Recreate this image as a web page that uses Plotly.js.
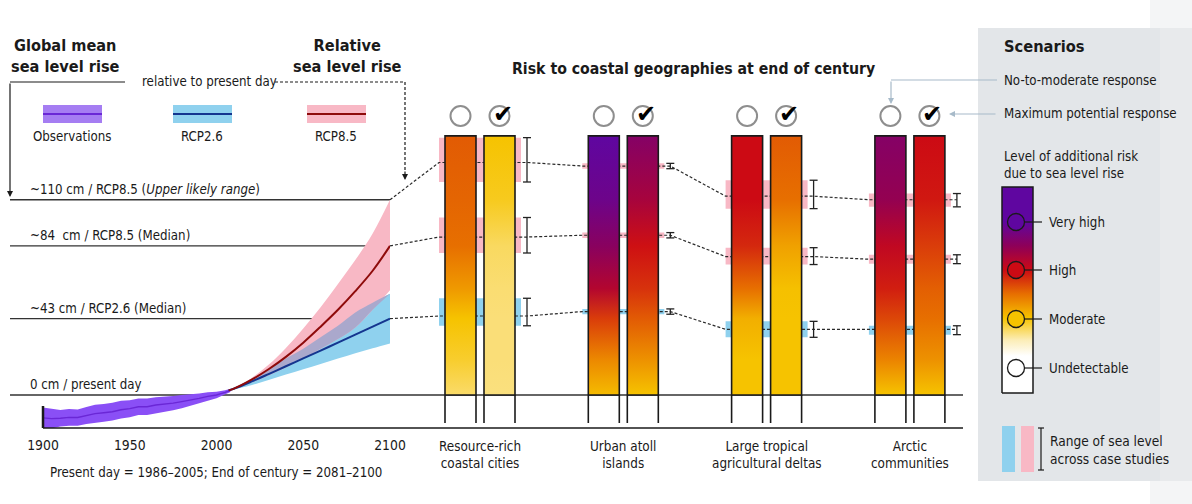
<!DOCTYPE html>
<html>
<head>
<meta charset="utf-8">
<script src="https://cdn.plot.ly/plotly-3.0.1.min.js"></script>
<style>
  html, body { margin: 0; padding: 0; background: #fff; }
  #chart { width: 1192px; height: 504px; }
</style>
</head>
<body>
<div id="chart"></div>
<script>
// ---------- Global mean sea level, cm relative to present day (1986–2005) ----------
const obsYears = [1900,1905,1910,1915,1920,1925,1930,1935,1940,1945,1950,1955,1960,1965,1970,1975,1980,1985,1990,1995,2000,2005,2008];
const obsMid   = [-12.9,-13.3,-13.1,-12.6,-12.7,-11.5,-10.5,-10.0,-9.4,-8.3,-7.7,-6.6,-6.6,-5.6,-5.2,-4.6,-3.7,-3.0,-1.9,-0.8,0.0,1.5,2.6];
const obsLow   = [-18.7,-18.8,-17.8,-17.3,-17.3,-16.3,-15.5,-15.0,-14.4,-13.3,-12.5,-11.2,-11.2,-10.0,-9.4,-8.6,-7.4,-6.3,-4.7,-3.2,-1.9,0.3,1.7];
const obsHigh  = [-7.1,-7.8,-8.4,-7.9,-8.1,-6.7,-5.5,-5.0,-4.4,-3.3,-2.9,-2.0,-2.0,-1.2,-1.0,-0.6,0.0,0.3,0.9,1.6,1.9,2.7,3.5];

const projYears  = [2007,2010,2020,2030,2040,2050,2060,2070,2080,2090,2100];
const rcp26Mid   = [2.6,3.5,7.5,11.8,16.2,20.6,25.0,29.5,34.0,38.5,43];
const rcp26Low   = [2.6,3.2,5.5,8.5,11.5,14.5,17.5,20.5,23.5,26.3,29];
const rcp26High  = [2.6,3.8,9.0,14.5,20.5,26.0,32.5,39.0,46.5,52.0,57];
const rcp85Mid   = [2.6,3.6,8.5,14.5,21.5,29.5,38.5,48.0,58.5,70.0,84];
const rcp85Low   = [2.6,3.4,7.0,11.0,15.5,20.5,26.0,31.5,38.0,48.0,59];
const rcp85High  = [2.6,3.8,9.5,17.0,26.5,37.5,49.5,62.5,76.0,91.0,110];

// Reference levels at end of century
const levelValues = [110, 84, 43, 0];
const levelLabels = ['~110 cm / RCP8.5 (<i>Upper likely range</i>)', '~84\u00a0 cm / RCP8.5 (Median)', '~43 cm / RCP2.6 (Median)', '0 cm / present day'];
const yearTicks = [1900, 1950, 2000, 2050, 2100];

// ---------- Risk to coastal geographies ----------
const groups = ['Resource-rich<br>coastal cities', 'Urban atoll<br>islands', 'Large tropical<br>agricultural deltas', 'Arctic<br>communities'];
const responses = ['No-to-moderate response', 'Maximum potential response'];
// relative sea level per geography for: RCP8.5 upper likely, RCP8.5 median, RCP2.6 median
const scenarioGlobal = [110, 84, 43];
const rslMid  = [[131, 89, 44.5], [129, 90, 47], [112, 78, 37], [110, 76.5, 37]];
const rslLow  = [[120, 80, 39],   [127.5, 88.5, 45.5], [105, 73.5, 32.5], [106, 74, 34]];
const rslHigh = [[145, 100, 54.5],[130.5, 91.5, 48.5], [121, 83, 41.5],   [113.5, 79, 39]];

// risk level (0 undetectable … 3 very high) along sea level rise
const riskHeights = [0, 20, 43, 60, 84, 110, 146];
const riskNoToModerate = [
  [0.65, 0.85, 1.0, 1.25, 1.5, 1.55, 1.6],
  [1.05, 1.35, 1.75, 2.2, 2.55, 2.85, 3.0],
  [1.0, 1.0, 1.12, 1.5, 1.85, 2.0, 2.0],
  [1.0, 1.38, 1.7, 1.9, 2.1, 2.45, 2.6]
];
const riskMaximum = [
  [0.58, 0.6, 0.6, 0.62, 0.68, 0.9, 1.0],
  [1.0, 1.3, 1.6, 1.8, 1.97, 2.3, 2.6],
  [1.0, 1.0, 1.0, 1.02, 1.2, 1.5, 1.6],
  [1.0, 1.3, 1.5, 1.58, 1.75, 1.93, 2.0]
];
const riskNames = ['Undetectable', 'Moderate', 'High', 'Very high'];
const riskNameLevels = [0, 1, 2, 3];

// ---------- styling / layout constants ----------
const FONT = '"DejaVu Sans Condensed", "Liberation Sans Narrow", "Arial Narrow", sans-serif';
const FS = 13.2;
const INK = '#1a1a1a';
const W = 1192, H = 504;
const ZERO_PX = 395, PX_PER_CM = 1.775, AXIS_PX = 428;
const cmAt = p => (ZERO_PX - p) / PX_PER_CM;
const BAR_TOP = 146;
const GROUP_X0 = 445, GROUP_STEP = 143.3, BAR_W = 31, BAR_STEP = 39;
const PINK = '#f8b8c5', BLUE = '#8fd1ee';
const scenarioColors = [PINK, PINK, BLUE];

const riskPalette = [[0,'#ffffff'],[0.5,'#fbe596'],[1,'#f6c300'],[1.5,'#e76f00'],[2,'#cc0a14'],[2.5,'#8e0058'],[3,'#5f06a0']];
function hexRgb(h) { return [1,3,5].map(i => parseInt(h.slice(i, i + 2), 16)); }
function riskColor(v) {
  for (let k = 1; k < riskPalette.length; k++) {
    const [v1, c1] = riskPalette[k], [v0, c0] = riskPalette[k - 1];
    if (v <= v1 || k === riskPalette.length - 1) {
      const t = Math.max(0, Math.min(1, (v - v0) / (v1 - v0)));
      const a = hexRgb(c0), b = hexRgb(c1);
      const m = a.map((x, i) => Math.round(x + (b[i] - x) * t));
      return `rgb(${m[0]},${m[1]},${m[2]})`;
    }
  }
}

const groupLeft = i => GROUP_X0 + i * GROUP_STEP;
const barLeft = (i, j) => groupLeft(i) + j * BAR_STEP;
const groupCenter = i => groupLeft(i) + (BAR_STEP + BAR_W) / 2;
const ibarX = i => groupLeft(i) + 82;

const traces = [];
const T = (o) => Object.assign({hoverinfo: 'skip', showlegend: false}, o);
const rev = a => a.slice().reverse();

// ----- time series panel -----
traces.push(T({x: obsYears.concat(rev(obsYears)), y: obsHigh.concat(rev(obsLow)), mode: 'lines', fill: 'toself', fillcolor: '#8a4ff6', line: {width: 0}, xaxis: 'x', yaxis: 'y'}));
traces.push(T({x: obsYears, y: obsMid, mode: 'lines', line: {color: '#6a27d6', width: 1.4}, xaxis: 'x', yaxis: 'y'}));
// likely ranges filled between smooth edges
function band(lo, hi, color) {
  traces.push(T({x: projYears, y: lo, mode: 'lines', line: {width: 0, shape: 'spline', smoothing: 1}, xaxis: 'x', yaxis: 'y'}));
  traces.push(T({x: projYears, y: hi, mode: 'lines', fill: 'tonexty', fillcolor: color, line: {width: 0, shape: 'spline', smoothing: 1}, xaxis: 'x', yaxis: 'y'}));
}
band(rcp26Low, rcp26High, BLUE);
band(rcp85Low, rcp85High, PINK);
// where the two likely ranges overlap
const ovTop = projYears.map((_, k) => Math.min(rcp26High[k], rcp85High[k]));
const ovBot = projYears.map((_, k) => Math.min(ovTop[k], Math.max(rcp26Low[k], rcp85Low[k])));
band(ovBot, ovTop, '#aaa8cc');
traces.push(T({x: projYears, y: rcp26Mid, mode: 'lines', line: {color: '#14358f', width: 2, shape: 'spline', smoothing: 1}, xaxis: 'x', yaxis: 'y'}));
traces.push(T({x: projYears, y: rcp85Mid, mode: 'lines', line: {color: '#8e0b0b', width: 2, shape: 'spline', smoothing: 1}, xaxis: 'x', yaxis: 'y'}));

// ----- risk panel (x2 in layout pixels, y in cm) -----
// ranges of relative sea level across case studies
groups.forEach((g, i) => {
  scenarioGlobal.forEach((_, s) => {
    const x0 = groupLeft(i) - 6, x1 = groupLeft(i) + BAR_STEP + BAR_W + 6;
    traces.push(T({x: [x0, x1, x1, x0, x0], y: [rslLow[i][s], rslLow[i][s], rslHigh[i][s], rslHigh[i][s], rslLow[i][s]],
      mode: 'lines', fill: 'toself', fillcolor: scenarioColors[s], line: {width: 0}, xaxis: 'x2', yaxis: 'y'}));
  });
});
// dashed connectors from the global level through each geography
scenarioGlobal.forEach((lvl, s) => {
  const xs = [390], ys = [lvl];
  groups.forEach((g, i) => {
    xs.push(groupLeft(i) - 6, ibarX(i));
    ys.push(rslMid[i][s], rslMid[i][s]);
  });
  traces.push(T({x: xs, y: ys, mode: 'lines', line: {color: '#2a2a2a', width: 1.2, dash: '3px,2px'}, xaxis: 'x2', yaxis: 'y'}));
});
// range whiskers
scenarioGlobal.forEach((_, s) => {
  const xs = [], ys = [];
  groups.forEach((g, i) => {
    const x = ibarX(i), lo = rslLow[i][s], hi = rslHigh[i][s];
    xs.push(x, x, null, x - 4, x + 4, null, x - 4, x + 4, null);
    ys.push(lo, hi, null, lo, lo, null, hi, hi, null);
  });
  traces.push(T({x: xs, y: ys, mode: 'lines', line: {color: '#222', width: 1.3}, xaxis: 'x2', yaxis: 'y'}));
});
// gradient risk bars
function barTrace(x0, profile) {
  const x1 = x0 + BAR_W;
  const cs = riskHeights.map((h, k) => [h / BAR_TOP, riskColor(profile[k])]);
  cs[0][0] = 0; cs[cs.length - 1][0] = 1;
  return T({x: [x0, x1, x1, x0, x0], y: [0, 0, BAR_TOP, BAR_TOP, 0], mode: 'lines', fill: 'toself',
    fillgradient: {type: 'vertical', colorscale: cs, start: 0, stop: BAR_TOP},
    line: {color: INK, width: 1.6}, xaxis: 'x2', yaxis: 'y'});
}
groups.forEach((g, i) => {
  traces.push(barTrace(barLeft(i, 0), riskNoToModerate[i]));
  traces.push(barTrace(barLeft(i, 1), riskMaximum[i]));
});
// bar edges continue below the present-day line
{
  const xs = [], ys = [];
  groups.forEach((g, i) => [0, 1].forEach(j => {
    [barLeft(i, j), barLeft(i, j) + BAR_W].forEach(x => { xs.push(x, x, null); ys.push(0, cmAt(423), null); });
  }));
  traces.push(T({x: xs, y: ys, mode: 'lines', line: {color: INK, width: 1.6}, xaxis: 'x2', yaxis: 'y'}));
}
// response symbols above the bars
const symX = [], symY = [];
groups.forEach((g, i) => [0, 1].forEach(j => { symX.push(barLeft(i, j) + BAR_W / 2); symY.push(cmAt(116)); }));
traces.push(T({x: symX, y: symY, mode: 'markers', marker: {symbol: 'circle-open', size: 20, color: '#8e8e8e', line: {width: 2}}, xaxis: 'x2', yaxis: 'y'}));

// ----- key: level of additional risk -----
const keyStopsPx = [[393, 0], [356, 0], [340, 0.35], [318, 1], [294, 1.5], [270, 2], [246, 2.5], [222, 3], [187, 3]];
{
  const y0 = cmAt(393), y1 = cmAt(187);
  const cs = keyStopsPx.map(([p, v]) => [(cmAt(p) - y0) / (y1 - y0), riskColor(v)]);
  cs[0][0] = 0; cs[cs.length - 1][0] = 1;
  traces.push(T({x: [1002, 1033, 1033, 1002, 1002], y: [y0, y0, y1, y1, y0], mode: 'lines', fill: 'toself',
    fillgradient: {type: 'vertical', colorscale: cs, start: y0, stop: y1}, line: {color: INK, width: 1.5}, xaxis: 'x2', yaxis: 'y'}));
}
const keyPx = [368, 319, 270, 222];
traces.push(T({x: [1024, 1042, null, 1024, 1042, null, 1024, 1042, null, 1024, 1042],
  y: keyPx.flatMap((p, k) => k < 3 ? [cmAt(p), cmAt(p), null] : [cmAt(p), cmAt(p)]),
  mode: 'lines', line: {color: INK, width: 1.2}, xaxis: 'x2', yaxis: 'y'}));
traces.push(T({x: riskNameLevels.map(() => 1016), y: keyPx.map(cmAt), mode: 'markers',
  marker: {symbol: 'circle', size: 17, color: riskNameLevels.map(riskColor), line: {color: INK, width: 1.3}}, xaxis: 'x2', yaxis: 'y'}));

// ---------- shapes ----------
const px = (o) => Object.assign({xref: 'x3', yref: 'y3', layer: 'below'}, o);
const paperRect = (x0, x1, y0, y1, color) => ({type: 'rect', xref: 'paper', yref: 'paper', layer: 'below',
  x0: x0 / W, x1: x1 / W, y0: 1 - y1 / H, y1: 1 - y0 / H, fillcolor: color, line: {width: 0}});
const shapes = [];
// right-hand key panel (drawn beneath every subplot)
shapes.push(paperRect(1150, 1192, 0, 504, '#f4f5f6'));
shapes.push(paperRect(978, 1192, 28, 481, '#e3e6e9'));
shapes.push(paperRect(1160, 1192, 28, 481, '#e8eaec'));
// reference level lines
levelValues.forEach(v => shapes.push({type: 'line', xref: 'x3', yref: 'y', x0: 10, x1: v === 0 ? 963 : 390, y0: v, y1: v, line: {color: '#333', width: 1.3}, layer: 'below'}));
// bottom axis line and the 1900 stub
shapes.push(px({type: 'line', x0: 43, x1: 963, y0: AXIS_PX, y1: AXIS_PX, line: {color: INK, width: 1.5}, layer: 'above'}));
shapes.push(px({type: 'line', x0: 43, x1: 43, y0: 406, y1: AXIS_PX, line: {color: INK, width: 2.5}, layer: 'above'}));
// header connectors
shapes.push(px({type: 'line', x0: 10, x1: 125, y0: 82, y1: 82, line: {color: INK, width: 1.2}}));
shapes.push(px({type: 'line', x0: 275, x1: 405, y0: 82, y1: 82, line: {color: INK, width: 1.2, dash: '3px,2px'}}));
shapes.push(px({type: 'line', x0: 405, x1: 405, y0: 82, y1: 172, line: {color: INK, width: 1.2, dash: '3px,2px'}}));
// scenario pointer
shapes.push(px({type: 'line', x0: 997, x1: 891, y0: 80, y1: 80, line: {color: '#a7bac9', width: 1.2}}));
// range key
shapes.push(px({type: 'rect', x0: 1002, x1: 1015, y0: 426, y1: 472, fillcolor: BLUE, line: {width: 0}}));
shapes.push(px({type: 'rect', x0: 1021, x1: 1034, y0: 426, y1: 472, fillcolor: PINK, line: {width: 0}}));
[[1041, 1041, 428, 470], [1038, 1044, 428, 428], [1038, 1044, 470, 470]].forEach(([x0, x1, y0, y1]) =>
  shapes.push(px({type: 'line', x0, x1, y0, y1, line: {color: INK, width: 1.2}})));
// series key swatches
const swatches = [[43, '#a57df2', '#6a27d6'], [173, BLUE, '#14358f'], [307, PINK, '#8e0b0b']];
swatches.forEach(([x0, fill, ln]) => {
  shapes.push(px({type: 'rect', x0, x1: x0 + 59, y0: 105, y1: 123, fillcolor: fill, line: {width: 0}}));
  shapes.push(px({type: 'line', x0, x1: x0 + 59, y0: 114, y1: 114, line: {color: ln, width: 2}}));
});

// ---------- annotations ----------
const ann = [];
const txt = (text, x, y, o) => ann.push(Object.assign({text, x, y, xref: 'x3', yref: 'y3', showarrow: false, align: 'left',
  font: {family: FONT, size: FS, color: INK}, xanchor: 'left', yanchor: 'middle'}, o || {}));
const bold = (s) => ({family: FONT, size: s, color: INK, weight: 700});

txt('<b>Global mean<br>sea level rise</b>', 65, 56, {xanchor: 'center', align: 'center', font: bold(16.2)});
txt('<b>Relative<br>sea level rise</b>', 347, 56, {xanchor: 'center', align: 'center', font: bold(16.2)});
txt('<b>Risk to coastal geographies at end of century</b>', 693, 68, {xanchor: 'center', font: bold(15.7)});
txt('relative to present day', 140, 81);
txt('Observations', 72, 136, {xanchor: 'center'});
txt('RCP2.6', 202, 136, {xanchor: 'center'});
txt('RCP8.5', 336, 136, {xanchor: 'center'});
levelValues.forEach((v, k) => ann.push({text: levelLabels[k], x: 28, y: v, xref: 'x3', yref: 'y', showarrow: false,
  xanchor: 'left', yanchor: 'bottom', yshift: 1, font: {family: FONT, size: FS, color: INK}}));
txt('Present day = 1986–2005; End of century = 2081–2100', 216, 472, {xanchor: 'center'});
groups.forEach((g, i) => txt(g, groupCenter(i), 455, {xanchor: 'center', align: 'center', font: {family: FONT, size: 13.4, color: INK}}));
// check marks on the maximum-response symbols
groups.forEach((g, i) => ann.push({text: '✔', x: barLeft(i, 1) + BAR_W / 2, y: cmAt(116), xref: 'x2', yref: 'y', showarrow: false,
  xshift: 3, yshift: 2, font: {family: '"DejaVu Sans", sans-serif', size: 24, color: '#000'}}));
// key panel text
txt('<b>Scenarios</b>', 1002, 46, {font: bold(16.3)});
txt(responses[0], 1002, 80);
txt(responses[1], 1002, 113);
txt('Level of additional risk<br>due to sea level rise', 1002, 165);
riskNames.forEach((n, k) => txt(n, 1047, keyPx[k]));
txt('Range of sea level<br>across case studies', 1048, 450, {font: {family: FONT, size: 13.6, color: INK}});
// arrows
const arrow = (x, y, ax, ay, color) => ann.push({text: '', x, y, ax, ay, xref: 'x3', yref: 'y3', axref: 'x3', ayref: 'y3',
  showarrow: true, arrowhead: 2, arrowsize: 1, arrowwidth: 1.2, arrowcolor: color, standoff: 0});
arrow(10, 197, 10, 82, INK);
arrow(405, 180, 405, 170, INK);
arrow(891, 104, 891, 80, '#a7bac9');
arrow(949, 114, 997, 114, '#a7bac9');

const hidden = {visible: false, showgrid: false, zeroline: false, fixedrange: true};
const layout = {
  width: W, height: H, autosize: false,
  margin: {l: 0, r: 0, t: 0, b: 0, pad: 0},
  paper_bgcolor: '#fff', plot_bgcolor: 'rgba(0,0,0,0)',
  showlegend: false,
  font: {family: FONT, size: FS, color: INK},
  xaxis: {domain: [43 / W, 390 / W], range: [1900, 2100], anchor: 'y', tickvals: yearTicks, ticks: '',
    showline: false, showgrid: false, zeroline: false, ticklabelstandoff: 7, tickfont: {family: FONT, size: 13.8, color: INK}, fixedrange: true},
  yaxis: Object.assign({domain: [(H - AXIS_PX) / H, 1], range: [cmAt(AXIS_PX), cmAt(0)], anchor: 'x'}, hidden),
  xaxis2: Object.assign({domain: [0, 1], range: [0, W], anchor: 'y'}, hidden),
  xaxis3: Object.assign({domain: [0, 1], range: [0, W], anchor: 'y3'}, hidden),
  yaxis3: Object.assign({domain: [0, 1], range: [H, 0], anchor: 'x3'}, hidden),
  shapes, annotations: ann
};

Plotly.newPlot('chart', traces, layout, {staticPlot: true, displayModeBar: false});
</script>
</body>
</html>
